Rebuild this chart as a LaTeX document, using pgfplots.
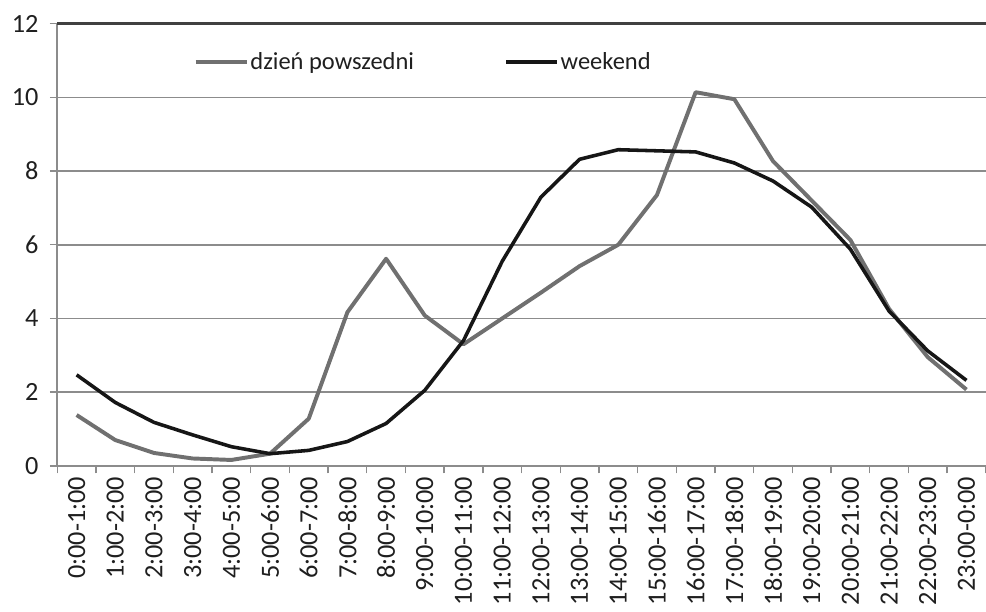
\documentclass[border=0pt]{standalone}
\usepackage{fontspec}
\setmainfont{Carlito}
\usepackage{pgfplots}
\pgfplotsset{compat=1.18}

\definecolor{weekday}{RGB}{112,112,112}
\definecolor{weekend}{RGB}{22,22,22}
\definecolor{gridgray}{RGB}{140,140,140}
\newcommand\tickfont{\fontsize{26.6}{31}\selectfont}
\newcommand\legendfont{\fontsize{24.8}{29}\selectfont}

% hourly shares (%) of trips: weekday vs weekend
\pgfplotstableread{
h   weekday weekend
0   1.38    2.47
1   0.70    1.72
2   0.35    1.18
3   0.20    0.84
4   0.16    0.52
5   0.33    0.33
6   1.28    0.42
7   4.17    0.66
8   5.62    1.15
9   4.08    2.05
10  3.30    3.40
11  4.00    5.55
12  4.70    7.29
13  5.42    8.32
14  6.00    8.58
15  7.35    8.55
16  10.14   8.52
17  9.95    8.22
18  8.27    7.73
19  7.20    7.02
20  6.13    5.88
21  4.26    4.20
22  2.95    3.12
23  2.07    2.32
}\hours

\begin{document}
\begin{tikzpicture}
\useasboundingbox (0,-14pt) rectangle (999pt,606pt);
\clip (0,-14pt) rectangle (999pt,606pt);
\begin{axis}[
  at={(58pt,134pt)}, anchor=south west,
  scale only axis, width=940.8pt, height=448pt,
  xmin=-0.5, xmax=23.5, ymin=0, ymax=12,
  axis x line*=bottom, axis y line*=left,
  axis line style={gridgray, line width=1.6pt},
  tick align=outside,
  major tick length=7.5pt,
  tick style={gridgray, line width=1.4pt},
  ytick={0,2,...,12},
  xtick={-0.5,0.5,...,23.5},
  x tick label as interval,
  xticklabels={0:00-1:00,1:00-2:00,2:00-3:00,3:00-4:00,4:00-5:00,5:00-6:00,
    6:00-7:00,7:00-8:00,8:00-9:00,9:00-10:00,10:00-11:00,11:00-12:00,
    12:00-13:00,13:00-14:00,14:00-15:00,15:00-16:00,16:00-17:00,17:00-18:00,
    18:00-19:00,19:00-20:00,20:00-21:00,21:00-22:00,22:00-23:00,23:00-0:00},
  xticklabel style={rotate=90, anchor=east, font=\tickfont, text=black!88},
  yticklabel style={font=\tickfont, text=black!88, xshift=-8pt},
  /pgf/number format/assume math mode=true,
  ymajorgrids,
  grid style={gridgray, line width=1.6pt},
  extra y ticks={12},
  extra y tick labels={},
  extra y tick style={grid style={black!75, line width=2.4pt}},
  legend columns=2,
  legend style={at={(0.1467,0.913)}, anchor=west, draw=none, fill=none,
    inner sep=0pt, font=\legendfont, text=black!88,
    nodes={inner sep=1.5pt},
    /tikz/every even column/.append style={column sep=90pt}},
  legend image code/.code={\draw[#1] (0pt,0pt) -- (52pt,0pt);},
  line join=round,
]
\addplot[weekday, line width=4pt] table[x=h, y=weekday] {\hours};
\addlegendentry{dzień powszedni}
\addplot[weekend, line width=3.6pt] table[x=h, y=weekend] {\hours};
\addlegendentry{weekend}
\end{axis}
\end{tikzpicture}
\end{document}
